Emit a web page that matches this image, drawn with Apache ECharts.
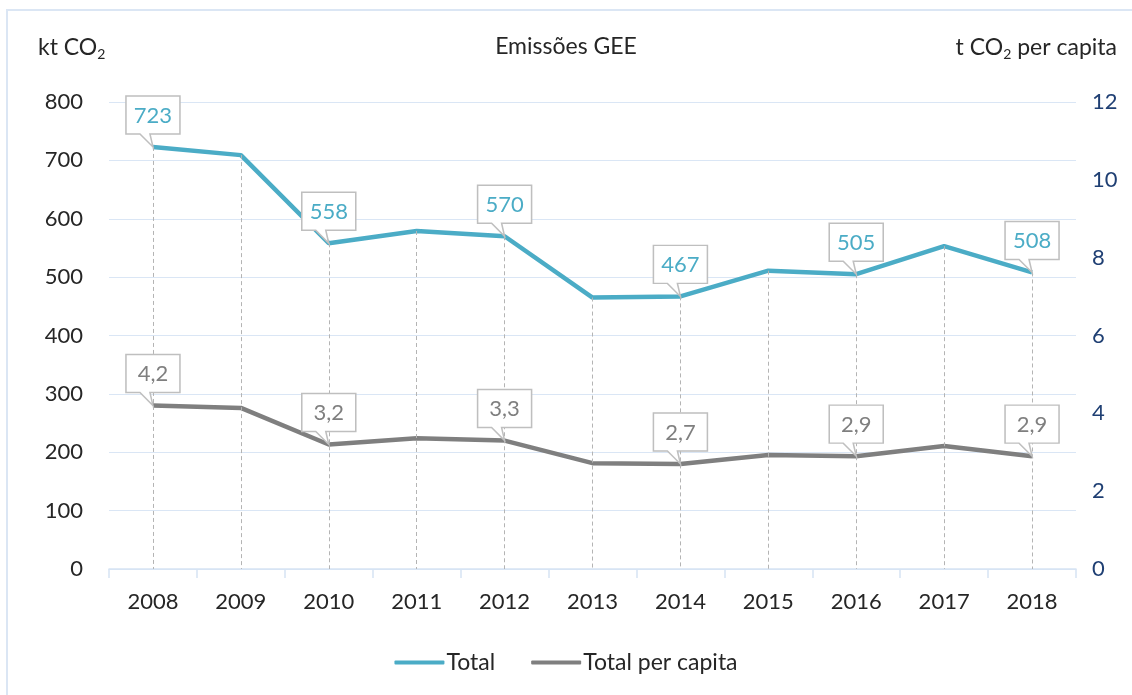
<!DOCTYPE html>
<html>
<head>
<meta charset="utf-8">
<script src="https://cdn.jsdelivr.net/npm/echarts@6/dist/echarts.min.js"></script>
<style>
  html, body { margin: 0; padding: 0; background: #fff; overflow: hidden; }
  #frame { position: absolute; left: 6px; top: 9px; width: 1140px; height: 700px; border: 2px solid #dbe6f4; box-sizing: border-box; }
  #charts { position: absolute; left: 0; top: 0; width: 1132px; height: 695px; }
</style>
</head>
<body>
<div id="frame"></div>
<div id="charts"></div>
<script>
var years = ['2008', '2009', '2010', '2011', '2012', '2013', '2014', '2015', '2016', '2017', '2018'];
var totalKt = [723, 709, 558, 579, 570, 465, 467, 511, 505, 553, 508];
var perCapita = [4.2, 4.14, 3.2, 3.36, 3.3, 2.72, 2.7, 2.93, 2.9, 3.16, 2.9];
var labelledIdx = [0, 2, 4, 6, 8, 10];
var leftTicks = { min: 0, max: 800, interval: 100 };
var rightTicks = { min: 0, max: 12, interval: 2 };

var blue = '#4bacc6';
var grey = '#7f7f7f';
var ink = '#262626';
var font = 'Lato';
var fs = 22;
var fsText = 23;

// callout box with a little tail, tip at the bottom (x=27 of 54)
var callout = 'path://M0,0 L54,0 L54,38 L24,38 L27,51 L14,38 L0,38 Z';

function callouts(values, color, fmt) {
    return {
        symbol: callout,
        symbolSize: [54, 51],
        symbolKeepAspect: false,
        symbolOffset: [0, -25.5],
        itemStyle: { color: '#fff', borderColor: '#bfbfbf', borderWidth: 1.5 },
        label: {
            show: true,
            color: color,
            fontFamily: font,
            fontSize: fs,
            offset: [0, -6],
            formatter: function (p) { return fmt(p.value); }
        },
        data: labelledIdx.map(function (i) {
            return { coord: [years[i], values[i]], value: values[i] };
        })
    };
}

var richTitle = {
    a: { fontSize: fsText, fontWeight: 'normal', color: ink, fontFamily: font },
    s: { fontSize: 14, fontWeight: 'normal', color: ink, fontFamily: font, padding: [12, 0, 0, 0] }
};

function initECharts(myChart) {
    var option = {
        animation: false,
        textStyle: { fontFamily: font },
        title: [
            {
                text: '{a|kt CO}{s|2}',
                left: 33, top: 30,
                textStyle: { fontWeight: 'normal', rich: richTitle }
            },
            {
                text: '{a|Emissões GEE}',
                left: 'center', top: 30,
                textStyle: { fontWeight: 'normal', rich: richTitle }
            },
            {
                text: '{a|t CO}{s|2}{a| per capita}',
                right: 10, top: 30,
                textStyle: { fontWeight: 'normal', rich: richTitle }
            }
        ],
        grid: { left: 109, right: 56, top: 102, bottom: 126 },
        legend: {
            bottom: 16,
            left: 'center',
            itemWidth: 50,
            itemHeight: 4,
            itemGap: 36,
            icon: 'roundRect',
            textStyle: { fontSize: fsText, color: ink, fontFamily: font, padding: [0, 0, 0, -3] },
            data: ['Total', 'Total per capita']
        },
        xAxis: {
            type: 'category',
            data: years,
            boundaryGap: true,
            axisLine: { lineStyle: { color: '#d6e3f3', width: 1.5 } },
            axisTick: { show: true, length: 9, lineStyle: { color: '#d6e3f3', width: 1.5 } },
            axisLabel: { color: ink, fontSize: fs, margin: 22, fontFamily: font }
        },
        yAxis: [
            {
                type: 'value',
                min: leftTicks.min, max: leftTicks.max, interval: leftTicks.interval,
                axisLine: { show: false },
                axisTick: { show: false },
                splitLine: { lineStyle: { color: '#dae6f5', width: 1.2 } },
                axisLabel: { color: ink, fontSize: fs, margin: 26, fontFamily: font }
            },
            {
                type: 'value',
                min: rightTicks.min, max: rightTicks.max, interval: rightTicks.interval,
                position: 'right',
                axisLine: { show: false },
                axisTick: { show: false },
                splitLine: { show: false },
                axisLabel: { color: '#1f3f73', fontSize: fs, margin: 16, fontFamily: font }
            }
        ],
        series: [
            {
                name: 'Total',
                type: 'line',
                data: totalKt,
                yAxisIndex: 0,
                symbol: 'none',
                lineStyle: { color: blue, width: 4.5 },
                itemStyle: { color: blue },
                z: 3,
                markLine: {
                    silent: true,
                    symbol: 'none',
                    label: { show: false },
                    lineStyle: { color: '#b4b4b4', width: 1, type: [4, 3] },
                    data: years.map(function (y, i) {
                        return [{ coord: [y, totalKt[i]] }, { coord: [y, 0] }];
                    })
                },
                markPoint: callouts(totalKt, blue, function (v) { return String(v); })
            },
            {
                name: 'Total per capita',
                type: 'line',
                data: perCapita,
                yAxisIndex: 1,
                symbol: 'none',
                lineStyle: { color: grey, width: 4.5 },
                itemStyle: { color: grey },
                z: 3,
                markPoint: callouts(perCapita, grey, function (v) { return v.toFixed(1).replace('.', ','); })
            }
        ]
    };

    myChart.setOption(option);
}

window.onload = function () {
    var myChart = echarts.init(document.getElementById('charts'));
    initECharts(myChart);
};
</script>
</body>
</html>
